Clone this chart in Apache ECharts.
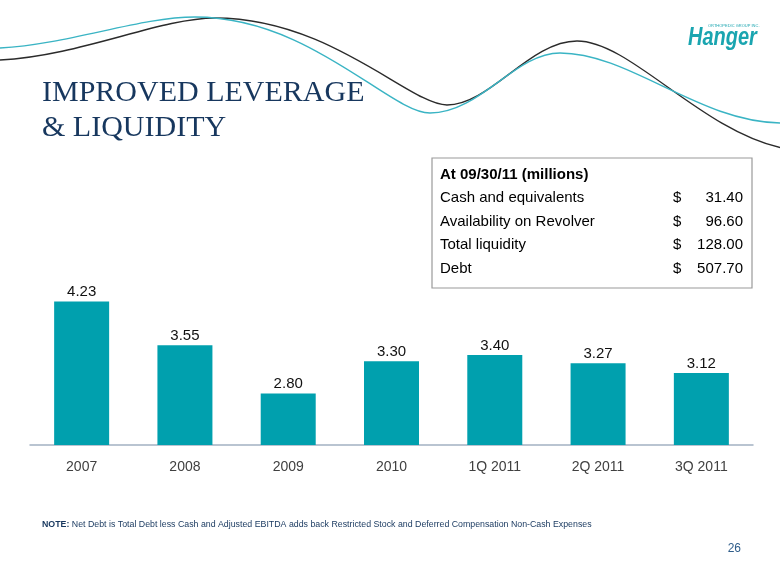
<!DOCTYPE html>
<html>
<head>
<meta charset="utf-8">
<script src="https://cdn.jsdelivr.net/npm/echarts@6/dist/echarts.min.js"></script>
<style>
  html, body { margin: 0; padding: 0; background: #ffffff; }
  #chart { width: 780px; height: 585px; }
</style>
</head>
<body>
<div id="chart"></div>
<script>
// ---- data ----
var categories = ['2007', '2008', '2009', '2010', '1Q 2011', '2Q 2011', '3Q 2011'];
var leverage = [4.23, 3.55, 2.80, 3.30, 3.40, 3.27, 3.12];
var tableTitle = 'At 09/30/11 (millions)';
var tableLabels = ['Cash and equivalents', 'Availability on Revolver', 'Total liquidity', 'Debt'];
var tableValues = [31.40, 96.60, 128.00, 507.70];
var titleLines = ['IMPROVED LEVERAGE', '& LIQUIDITY'];
var noteText = 'Net Debt is Total Debt less Cash and Adjusted EBITDA adds back Restricted Stock and Deferred Compensation Non-Cash Expenses';
var pageNumber = '26';

// ---- decoration helpers ----
function curve(pts, color) {
  var els = [];
  for (var i = 0; i + 7 < pts.length; i += 6) {
    els.push({
      type: 'bezierCurve', silent: true,
      shape: { x1: pts[i], y1: pts[i+1], cpx1: pts[i+2], cpy1: pts[i+3], cpx2: pts[i+4], cpy2: pts[i+5], x2: pts[i+6], y2: pts[i+7] },
      style: { stroke: color, lineWidth: 1.4, fill: null }
    });
  }
  return els;
}
var blackWave = curve([0,60, 80,56, 160,18, 215,18, 330,18, 410,105, 447,105, 490,105, 530,41, 577,41, 630,41, 700,130, 782,148], '#2b2b2b');
var tealWave = curve([0,48, 70,44, 140,17, 195,17, 310,17, 390,113, 430,113, 480,113, 515,53, 560,53, 630,53, 700,123, 782,123], '#3ab4c4');

var navy = '#17375e';
var graphics = [].concat(blackWave, tealWave);

// title
titleLines.forEach(function (t, i) {
  graphics.push({
    type: 'text', left: 42, top: 78 + i * 35,
    style: { text: t, fill: navy, font: '30px "Liberation Serif", "Times New Roman", serif' }
  });
});

// logo
graphics.push({
  type: 'text', x: 708, y: 24,
  style: { text: 'ORTHOPEDIC GROUP INC.', fill: '#1aa5b0', font: '4px "Liberation Sans", sans-serif' }
});
graphics.push({
  type: 'text', x: 688, y: 26, scaleX: 0.8,
  style: { text: 'Hanger', fill: '#1aa5b0', font: 'italic bold 25px "Liberation Sans", sans-serif' }
});

// table
graphics.push({
  type: 'rect', shape: { x: 432, y: 158, width: 320, height: 130 },
  style: { fill: '#ffffff', stroke: '#9a9a9a', lineWidth: 1.2 }
});
graphics.push({
  type: 'text', x: 440, y: 175,
  style: { text: tableTitle, fill: '#000', font: 'bold 15px "Liberation Sans", Arial, sans-serif', verticalAlign: 'middle', align: 'left' }
});
var rowY = [198, 222, 245, 269];
tableLabels.forEach(function (lab, i) {
  graphics.push({
    type: 'text', x: 440, y: rowY[i],
    style: { text: lab, fill: '#000', font: '15px "Liberation Sans", Arial, sans-serif', verticalAlign: 'middle', align: 'left' }
  });
  graphics.push({
    type: 'text', x: 673, y: rowY[i],
    style: { text: '$', fill: '#000', font: '15px "Liberation Sans", Arial, sans-serif', verticalAlign: 'middle', align: 'left' }
  });
  graphics.push({
    type: 'text', x: 743, y: rowY[i],
    style: { text: tableValues[i].toFixed(2), fill: '#000', font: '15px "Liberation Sans", Arial, sans-serif', verticalAlign: 'middle', align: 'right' }
  });
});

// note
graphics.push({
  type: 'text', x: 42, y: 525,
  style: {
    text: '{b|NOTE:} ' + noteText,
    verticalAlign: 'middle',
    rich: {
      b: { fontWeight: 'bold', fontSize: 8.8, fill: navy, fontFamily: '"Liberation Sans", Arial, sans-serif' }
    },
    fill: navy, font: '8.8px "Liberation Sans", Arial, sans-serif'
  }
});

// page number
graphics.push({
  type: 'text', x: 741, y: 549,
  style: { text: pageNumber, fill: '#2f5d8a', font: '12px "Liberation Sans", Arial, sans-serif', verticalAlign: 'middle', align: 'right' }
});

var chart = echarts.init(document.getElementById('chart'), null, { renderer: 'canvas' });
chart.setOption({
  animation: false,
  backgroundColor: '#ffffff',
  grid: { left: 30, right: 27, top: 252, bottom: 140, containLabel: false },
  xAxis: {
    type: 'category',
    data: categories,
    axisLine: { lineStyle: { color: '#a3b1c2', width: 1.5 } },
    axisTick: { show: false },
    axisLabel: { color: '#404040', fontSize: 14, fontFamily: '"Liberation Sans", Arial, sans-serif', margin: 15 }
  },
  yAxis: {
    type: 'value', min: 2, max: 5, show: false, splitLine: { show: false }
  },
  series: [{
    type: 'bar',
    data: leverage,
    barWidth: 55,
    itemStyle: { color: '#00a0ae' },
    label: {
      show: true, position: 'top', distance: 2,
      formatter: function (p) { return p.value.toFixed(2); },
      color: '#111', fontSize: 15, fontFamily: '"Liberation Sans", Arial, sans-serif'
    }
  }],
  graphic: { elements: graphics }
});
</script>
</body>
</html>
